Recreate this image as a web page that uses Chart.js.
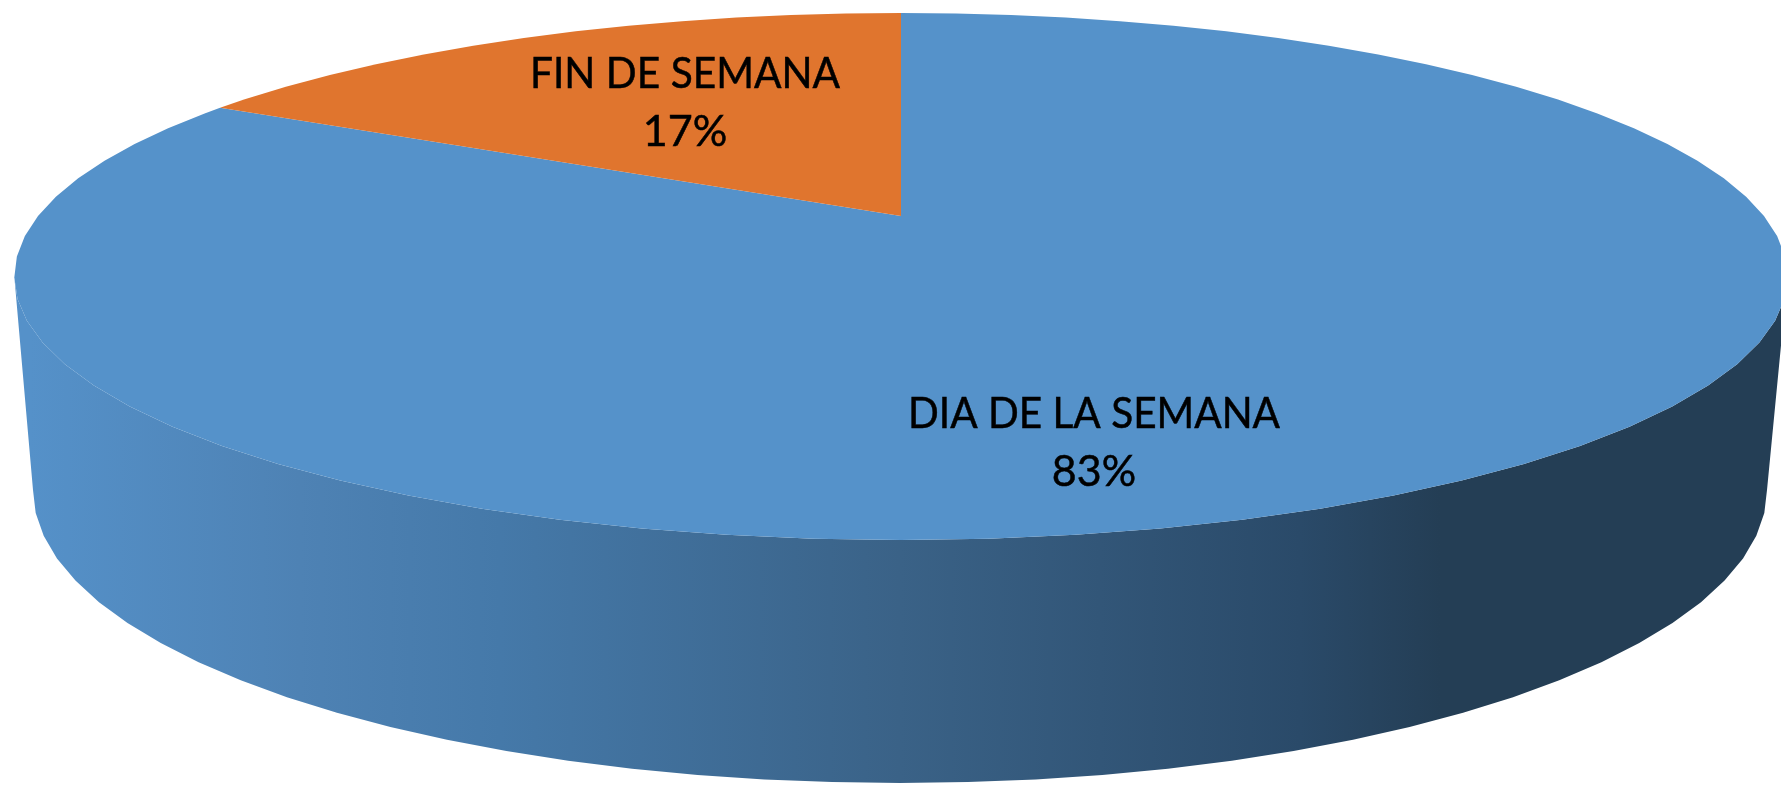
<!DOCTYPE html>
<html>
<head>
<meta charset="utf-8">
<script src="https://cdn.jsdelivr.net/npm/chart.js@4"></script>
<style>html,body{margin:0;padding:0;background:#fff;overflow:hidden}canvas{display:block}</style>
</head>
<body>
<canvas id="c" width="1781" height="785"></canvas>
<script>
const categories = ['DIA DE LA SEMANA', 'FIN DE SEMANA'];
const values = [83, 17];
const sliceColors = ['#5592CA', '#E0752E'];

// Perspective view of the pie's top face
const apex = {x: 901, y: 216};
const persp = 0.2296, radX = 863, radY = 249.6;
// Lower rim of the wall
const rim = {x: 900, y: 490, rx: 867, ry: 293};
const facet = Math.PI / 40;
// Label anchors (centre x, first baseline, target width of first line)
const labelPlace = [
  {x: 1094, y: 428, w: 372},
  {x: 685, y: 88, w: 310}
];
const wallStops = [[30,'#5591C9'],[300,'#4E82B4'],[500,'#4579A9'],[900,'#3A6287'],[1300,'#2A4A69'],[1440,'#243E55']];

function topPoint(theta) { // theta measured clockwise from 12 o'clock
  const u = Math.sin(theta), v = Math.cos(theta), w = 1 + persp * v;
  return [apex.x + radX * u / w, apex.y - radY * v / w];
}
function rimPoint(theta) {
  return [rim.x + rim.rx * Math.sin(theta), rim.y - rim.ry * Math.cos(theta)];
}
function sweep(a, b) {
  const pts = [a];
  const dir = b > a ? 1 : -1;
  const first = dir > 0 ? Math.floor(a / facet + 1e-6) + 1 : Math.ceil(a / facet - 1e-6) - 1;
  for (let i = first; dir > 0 ? i * facet < b - 1e-6 : i * facet > b + 1e-6; i += dir) pts.push(i * facet);
  pts.push(b);
  return pts;
}
const perspPie = {
  id: 'perspPie',
  beforeDatasetsDraw(chart) {
    const ctx = chart.ctx, arcs = chart.getDatasetMeta(0).data;
    ctx.save();
    // Wall, visible along the front half of the pie
    const tangent = Math.acos(-persp);
    const g = ctx.createLinearGradient(0, 0, chart.width, 0);
    wallStops.forEach(s => g.addColorStop(s[0] / chart.width, s[1]));
    ctx.fillStyle = g;
    ctx.beginPath();
    sweep(tangent, 2 * Math.PI - tangent).forEach((t, i) => {
      const p = topPoint(t);
      i ? ctx.lineTo(p[0], p[1]) : ctx.moveTo(p[0], p[1]);
    });
    sweep(3 * Math.PI / 2, Math.PI / 2).forEach(t => {
      const p = rimPoint(t);
      ctx.lineTo(p[0], p[1]);
    });
    ctx.closePath();
    ctx.fill();
    // Slices, from the angles the library computed
    arcs.forEach((arc, i) => {
      ctx.beginPath();
      ctx.moveTo(apex.x, apex.y);
      sweep(arc.startAngle + Math.PI / 2, arc.endAngle + Math.PI / 2).forEach(t => {
        const p = topPoint(t);
        ctx.lineTo(p[0], p[1]);
      });
      ctx.closePath();
      ctx.fillStyle = sliceColors[i];
      ctx.fill();
    });
    // Labels
    const total = values.reduce((a, b) => a + b, 0);
    ctx.fillStyle = '#000';
    ctx.strokeStyle = '#000';
    ctx.lineWidth = 0.5;
    ctx.textAlign = 'center';
    ctx.textBaseline = 'alphabetic';
    ctx.font = '42px Lato';
    categories.forEach((name, i) => {
      const place = labelPlace[i];
      const k = place.w / ctx.measureText(name).width;
      [[name, place.y, k], [Math.round(values[i] / total * 100) + '%', place.y + 58, k * 1.06]].forEach(line => {
        ctx.save();
        ctx.translate(place.x, line[1]);
        ctx.scale(line[2], 1);
        ctx.fillText(line[0], 0, 0);
        ctx.strokeText(line[0], 0, 0);
        ctx.restore();
      });
    });
    ctx.restore();
    return false;
  }
};
document.fonts.load('42px Lato').finally(() => {
  new Chart(document.getElementById('c'), {
    type: 'pie',
    data: {labels: categories, datasets: [{data: values, backgroundColor: sliceColors, borderWidth: 0}]},
    options: {
      responsive: false,
      animation: false,
      plugins: {legend: {display: false}, tooltip: {enabled: false}}
    },
    plugins: [perspPie]
  });
});
</script>
</body>
</html>
